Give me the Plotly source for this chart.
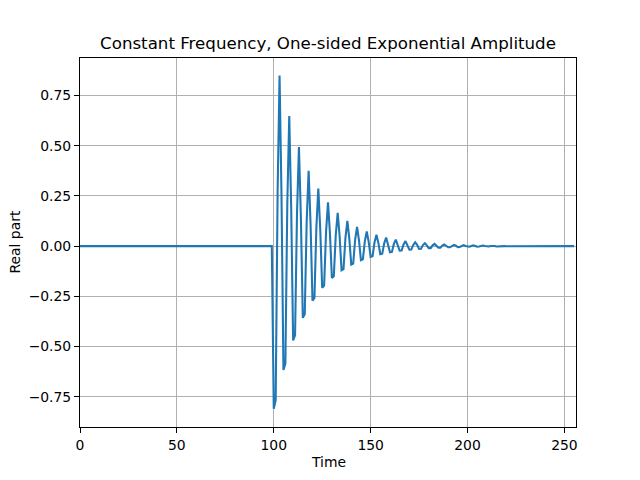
import plotly.graph_objects as go

time = list(range(256))

pre_zeros = [0.0] * 100
decay_part = [
    -0.809, -0.766, 0.277, 0.849, 0.249,
    -0.616, -0.584, 0.211, 0.647, 0.189,
    -0.469, -0.444, 0.161, 0.493, 0.144,
    -0.357, -0.339, 0.122, 0.375, 0.110,
    -0.272, -0.258, 0.093, 0.286, 0.084,
    -0.207, -0.196, 0.071, 0.218, 0.064,
    -0.158, -0.150, 0.054, 0.166, 0.049,
    -0.120, -0.114, 0.041, 0.126, 0.037,
    -0.092, -0.087, 0.031, 0.096, 0.028,
    -0.070, -0.066, 0.024, 0.073, 0.021,
    -0.053, -0.050, 0.018, 0.056, 0.016,
    -0.040, -0.038, 0.014, 0.043, 0.012,
    -0.031, -0.029, 0.011, 0.032, 0.009,
    -0.023, -0.022, 0.008, 0.025, 0.007,
    -0.018, -0.017, 0.006, 0.019, 0.006,
    -0.014, -0.013, 0.005, 0.014, 0.004,
    -0.010, -0.010, 0.004, 0.011, 0.003,
    -0.008, -0.008, 0.003, 0.008, 0.002,
    -0.006, -0.006, 0.002, 0.006, 0.002,
    -0.005, -0.004, 0.002, 0.005, 0.001,
    -0.003, -0.003, 0.001, 0.004, 0.001,
    -0.003, -0.002, 0.001, 0.003, 0.001,
    -0.002, -0.002, 0.001, 0.002, 0.001,
    -0.002, -0.001, 0.000, 0.002, 0.000,
    -0.001, -0.001, 0.000, 0.001, 0.000,
]
tail_zeros = [0.0] * (256 - 100 - len(decay_part))
real_part = pre_zeros + decay_part + tail_zeros

x_ticks = [0, 50, 100, 150, 200, 250]
y_ticks = [-0.75, -0.5, -0.25, 0.0, 0.25, 0.5, 0.75]
y_ticktext = ["\u22120.75", "\u22120.50", "\u22120.25", "0.00", "0.25", "0.50", "0.75"]

FONT = "DejaVu Sans"

fig = go.Figure()
fig.add_trace(go.Scatter(x=time, y=real_part, mode="lines",
                         line=dict(color="#1f77b4", width=2.08), showlegend=False))

axis_common = dict(
    showgrid=True, gridcolor="#b0b0b0", gridwidth=1,
    showline=True, linecolor="black", linewidth=1, mirror=True,
    ticks="outside", ticklen=5, tickwidth=1, tickcolor="black",
    zeroline=False, tickfont=dict(family=FONT, size=13.9, color="black"),
)

fig.update_layout(
    width=640, height=480,
    margin=dict(l=80, r=64, t=58, b=53),
    paper_bgcolor="white", plot_bgcolor="white",
    title=dict(text="Constant Frequency, One-sided Exponential Amplitude",
               x=0.5, xanchor="center", xref="paper",
               y=1 - 43 / 480, yanchor="middle", yref="container",
               font=dict(family=FONT, size=16.67, color="black")),
    xaxis=dict(range=[0, 256], tickvals=x_ticks, **axis_common),
    yaxis=dict(range=[-0.900, 0.936], tickvals=y_ticks, ticktext=y_ticktext, **axis_common),
    annotations=[
        dict(text="Time", x=0.5, y=0, xref="paper", yref="paper",
             xanchor="center", yanchor="middle", yshift=-35, showarrow=False,
             font=dict(family=FONT, size=13.9, color="black")),
        dict(text="Real part", x=0, y=0.5, xref="paper", yref="paper",
             xanchor="center", yanchor="middle", xshift=-66, textangle=-90,
             showarrow=False, font=dict(family=FONT, size=13.9, color="black")),
    ],
)

fig.write_html("out.html")
